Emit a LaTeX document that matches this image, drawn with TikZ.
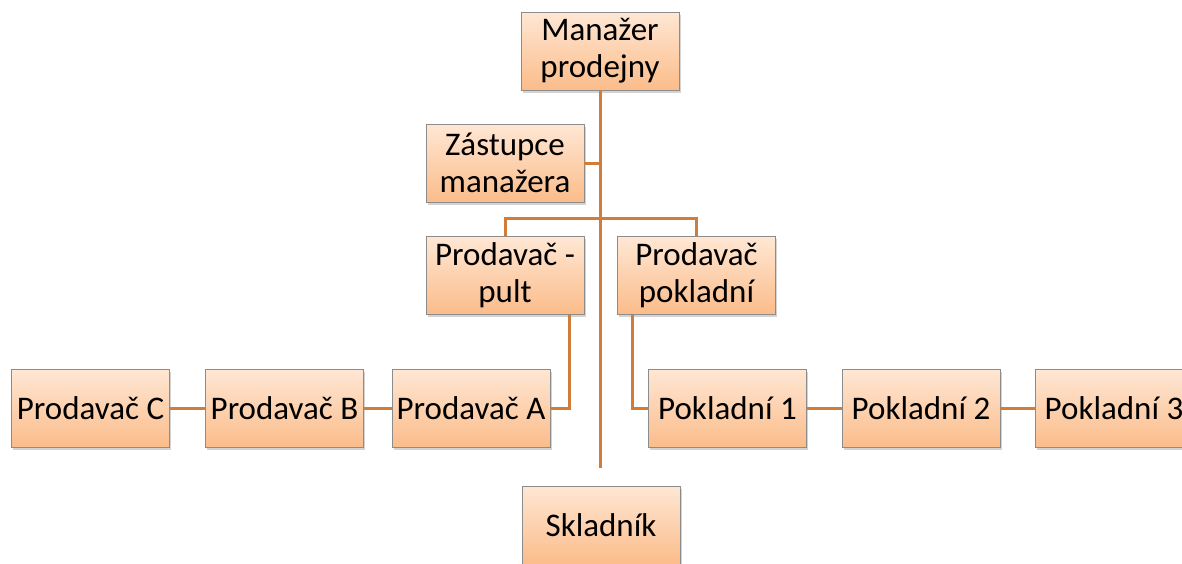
\documentclass[tikz,border=0pt]{standalone}
\usepackage{fontspec}
\setmainfont{Carlito}
\usepackage{tikz}
\usetikzlibrary{shadows,positioning}
\definecolor{linkorange}{RGB}{208,124,58}
\definecolor{boxtop}{RGB}{255,231,212}
\definecolor{boxbottom}{RGB}{251,188,138}
\definecolor{boxedge}{RGB}{140,140,140}
\tikzset{
  rolebox/.style={draw=boxedge, line width=0.8pt, top color=boxtop, bottom color=boxbottom,
    minimum width=158, minimum height=78, align=center, inner sep=0pt,
    font=\fontsize{33}{37}\selectfont,
    drop shadow={shadow xshift=1.5pt, shadow yshift=-2.5pt, opacity=0.35}},
  link/.style={draw=linkorange, line width=3pt}
}
\begin{document}
\begin{tikzpicture}[x=1pt,y=-1pt]
    \useasboundingbox (0,0) rectangle (1182,563);
    % Nodes
    \node[rolebox] (mgr) at (600,51) {Manažer\\prodejny};
    \node[rolebox] (dep) at (505,163) {Zástupce\\manažera};
    \node[rolebox] (pult) at (505,275.5) {Prodavač -\\pult};
    \node[rolebox] (pokl) at (696.5,275.5) {Prodavač\\pokladní};
    \node[rolebox] (prodC) at (90.5,408.5) {Prodavač C};
    \node[rolebox] (prodB) at (284.5,408.5) {Prodavač B};
    \node[rolebox] (prodA) at (471,408.5) {Prodavač A};
    \node[rolebox] (pok1) at (727.5,408.5) {Pokladní 1};
    \node[rolebox] (pok2) at (921,408.5) {Pokladní 2};
    \node[rolebox] (pok3) at (1114,408.5) {Pokladní 3};
    \node[rolebox] (sklad) at (601,525) {Skladník};
    \coordinate (trunkend) at (600,468);
    \coordinate (bar) at (600,218);
    % Connectors
    \draw[link] (mgr.south) -- (trunkend);
    \draw[link] (dep.east) -- (dep.east -| trunkend);
    \draw[link] (pult.north) |- (bar) -| (pokl.north);
    \draw[link] ([xshift=64]pult.south) |- (prodA.east);
    \draw[link] ([xshift=-64]pokl.south) |- (pok1.west);
    \draw[link] (prodA.west) -- (prodB.east);
    \draw[link] (prodB.west) -- (prodC.east);
    \draw[link] (pok1.east) -- (pok2.west);
    \draw[link] (pok2.east) -- (pok3.west);
\end{tikzpicture}
\end{document}
